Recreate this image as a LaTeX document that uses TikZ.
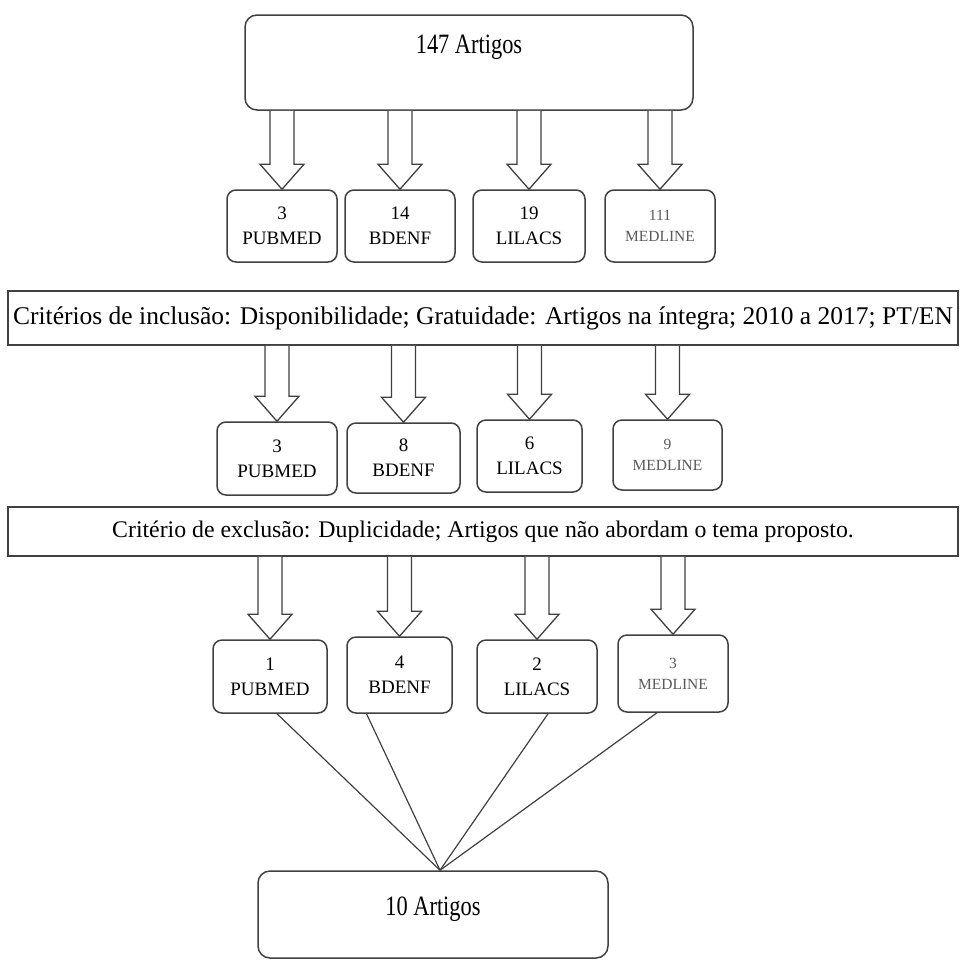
\documentclass[tikz,border=0pt]{standalone}
\usepackage{fontspec}
\setmainfont{Liberation Serif}
\newfontfamily\narrowserif{Liberation Serif}[FakeStretch=0.8]
\usepackage{tikz}
\usetikzlibrary{calc}

\tikzset{
  bigbox/.style={draw=black!75, line width=1.5pt, rounded corners=12pt, inner sep=0pt, font=\narrowserif\fontsize{28}{30}\selectfont},
  dbbox/.style={draw=black!75, line width=1.5pt, rounded corners=9pt, inner sep=0pt, align=center, font=\fontsize{19}{25}\selectfont},
  medbox/.style={dbbox, font=\fontsize{15.5}{21}\selectfont, text=black!65},
  critbox/.style={draw=black!75, line width=1.5pt, inner sep=0pt, minimum width=950pt},
  hollow/.style={draw=black!75, line width=1.3pt, fill=white, line join=miter},
  fanline/.style={draw=black!75, line width=1.2pt}
}
% hollow block arrow: #1 = start of shaft, #2 = tip
\newcommand{\hollowarrow}[2]{%
  \draw[hollow] let \p1=(#1), \p2=(#2) in
    (\x2-12pt,\y1) -- (\x2-12pt,\y2+25pt) -- (\x2-22pt,\y2+25pt) -- (\x2,\y2)
    -- (\x2+22pt,\y2+25pt) -- (\x2+12pt,\y2+25pt) -- (\x2+12pt,\y1);}

\begin{document}
\begin{tikzpicture}[x=1pt, y=-1pt]
    \useasboundingbox (0,0) rectangle (963,959);

    % Total
    \node[bigbox, minimum width=448pt, text height=38pt, text depth=57pt] (total) at (469,62.5) {147 Artigos};

    % Busca nas bases
    \node[dbbox, minimum width=110pt, minimum height=72pt] (pub1) at (282,226) {3\\PUBMED};
    \node[dbbox, minimum width=110pt, minimum height=72pt] (bde1) at (400,226) {14\\BDENF};
    \node[dbbox, minimum width=112pt, minimum height=72pt] (lil1) at (529,226) {19\\LILACS};
    \node[medbox, minimum width=110pt, minimum height=72pt] (med1) at (660,226) {111\\MEDLINE};
    \foreach \b in {pub1, bde1, lil1, med1}
        \hollowarrow{total.south -| \b.north}{\b.north};

    % Criterios de inclusao
    \node[critbox, minimum height=54pt, font=\fontsize{25.5}{27}\selectfont] (incl) at (483,318)
        {Critérios de inclusão: Disponibilidade; Gratuidade: Artigos na íntegra; 2010 a 2017; PT/EN};

    \node[dbbox, minimum width=120pt, minimum height=73pt] (pub2) at (277,458.5) {3\\PUBMED};
    \node[dbbox, minimum width=113pt, minimum height=70pt] (bde2) at (403.5,458) {8\\BDENF};
    \node[dbbox, minimum width=105pt, minimum height=72pt] (lil2) at (529.5,456) {6\\LILACS};
    \node[medbox, minimum width=109pt, minimum height=70pt] (med2) at (667.5,455) {9\\MEDLINE};
    \foreach \b in {pub2, bde2, lil2, med2}
        \hollowarrow{incl.south -| \b.north}{\b.north};

    % Criterios de exclusao
    \node[critbox, minimum height=49pt, font=\fontsize{23.8}{25}\selectfont] (excl) at (483,531.5)
        {Critério de exclusão: Duplicidade; Artigos que não abordam o tema proposto.};

    \node[dbbox, minimum width=114pt, minimum height=73pt] (pub3) at (270,676.5) {1\\PUBMED};
    \node[dbbox, minimum width=105pt, minimum height=76pt] (bde3) at (399.5,675) {4\\BDENF};
    \node[dbbox, minimum width=120pt, minimum height=73pt] (lil3) at (537,676.5) {2\\LILACS};
    \node[medbox, minimum width=110pt, minimum height=77pt] (med3) at (673,673.5) {3\\MEDLINE};
    \foreach \b in {pub3, bde3, lil3, med3}
        \hollowarrow{excl.south -| \b.north}{\b.north};

    % Resultado final
    \node[bigbox, minimum width=350pt, text height=44pt, text depth=43pt] (final) at (433,914.5) {10 Artigos};
    \coordinate (meet) at ([xshift=7pt]final.north);
    \draw[fanline] ([xshift=7pt]pub3.south) -- (meet);
    \draw[fanline] ([xshift=-33pt]bde3.south) -- (meet);
    \draw[fanline] ([xshift=11pt]lil3.south) -- (meet);
    \draw[fanline] ([xshift=-16pt]med3.south) -- (meet);
\end{tikzpicture}
\end{document}
